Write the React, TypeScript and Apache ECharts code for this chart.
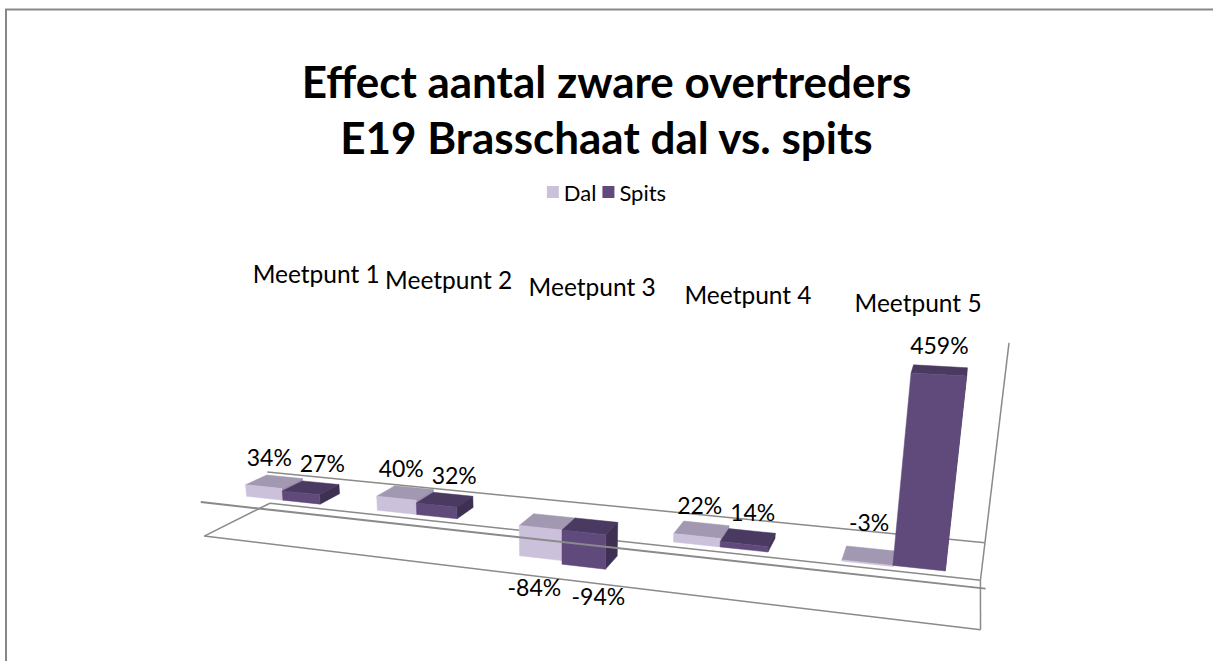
import React, { useEffect, useRef } from 'react';
import * as echarts from 'echarts';

// ---------- data ----------
const categories = ['Meetpunt 1', 'Meetpunt 2', 'Meetpunt 3', 'Meetpunt 4', 'Meetpunt 5'];
const seriesNames = ['Dal', 'Spits'];
const dalValues = [34, 40, -84, 22, -3];
const spitsValues = [27, 32, -94, 14, 459];
const valueMin = -100;
const valueMax = 500;
const titleLines = ['Effect aantal zware overtreders', 'E19 Brasschaat dal vs. spits'];

// ---------- style / layout ----------
const FONT = 'Lato, "Liberation Sans", sans-serif';
const DAL_COLORS = { front: '#CCC1DA', top: '#A298B1', side: '#9A8FAA' };
const SPITS_COLORS = { front: '#604A7B', top: '#4A3A61', side: '#3E3052' };
const LINE_COLOR = '#8A8A8A';
const LABEL_SIZE = 23;

// perspective camera (layout constants)
const DEG = Math.PI / 180;
const ROT_Y = 18.9 * DEG;
const ROT_X = 18.2 * DEG;
const FOCAL = 1160;
const DIST = 1160;
const CX = 562;
const CY = 530;
const BAR_FRAC = 0.286;
const BAR_DEPTH = 42;
const FLOOR_FRONT = -35;
const FLOOR_BACK = 95;

function project(X: number, Y: number, Z: number): number[] {
  const ca = Math.cos(ROT_Y), sa = Math.sin(ROT_Y);
  const cb = Math.cos(ROT_X), sb = Math.sin(ROT_X);
  const xr = X * ca + Z * sa;
  const zr = -X * sa + Z * ca;
  const yr = Y * cb + zr * sb;
  const zc = DIST + zr * cb - Y * sb;
  return [CX + (FOCAL * xr) / zc, CY - (FOCAL * yr) / zc];
}

function poly(pts: number[][], fill: string) {
  return {
    type: 'polygon',
    shape: { points: pts },
    style: { fill, stroke: fill, lineWidth: 0.5 },
  };
}

function seg(a: number[], b: number[], w = 1.5) {
  return {
    type: 'line',
    shape: { x1: a[0], y1: a[1], x2: b[0], y2: b[1] },
    style: { stroke: LINE_COLOR, lineWidth: w },
  };
}

// world-space box of one bar, derived from the axis scales
function barGeom(params: any, api: any, cat: number, v: number, seriesIdx: number) {
  const cs = params.coordSys;
  const midX = cs.x + cs.width / 2;
  const base = api.coord([cat, 0]);
  const tip = api.coord([cat, v]);
  const band = api.size([1, 0])[0];
  const barW = band * BAR_FRAC;
  const center = base[0] - midX;
  const X1 = seriesIdx === 0 ? center - barW : center;
  const X2 = X1 + barW;
  const yv = base[1] - tip[1];
  return { X1, X2, y0: Math.min(0, yv), y1: Math.max(0, yv), yv };
}

function makeBarRenderer(seriesIdx: number, colors: { front: string; top: string; side: string }) {
  return (params: any, api: any) => {
    const cat = api.value(0);
    const v = api.value(1);
    const { X1, X2, y0, y1 } = barGeom(params, api, cat, v, seriesIdx);
    const L = BAR_DEPTH;
    const front = [project(X1, y0, 0), project(X2, y0, 0), project(X2, y1, 0), project(X1, y1, 0)];
    const top = [project(X1, y1, 0), project(X2, y1, 0), project(X2, y1, L), project(X1, y1, L)];
    const side = [project(X2, y0, 0), project(X2, y0, L), project(X2, y1, L), project(X2, y1, 0)];
    return {
      type: 'group',
      children: [poly(top, colors.top), poly(side, colors.side), poly(front, colors.front)],
    };
  };
}

function labelAnchor(params: any, api: any, cat: number, v: number, seriesIdx: number) {
  const g = barGeom(params, api, cat, v, seriesIdx);
  const mid = (g.X1 + g.X2) / 2;
  if (v > -10) {
    const p = project(mid, g.y1, BAR_DEPTH / 2);
    return { x: p[0], y: p[1] - 25 - (v < 0 ? 8 : 0) };
  }
  const p = project(mid, g.y0, 0);
  return { x: p[0], y: p[1] + 29 };
}

function labelText(x: number, y: number, v: number) {
  return {
    type: 'text',
    x,
    y,
    style: {
      text: `${v}%`,
      fontSize: LABEL_SIZE,
      fontFamily: FONT,
      fill: '#000',
      align: 'center',
      verticalAlign: 'middle',
    },
  };
}

function renderLabels(params: any, api: any) {
  const cat = api.value(0);
  const vd = api.value(1);
  const vs = api.value(2);
  const a = labelAnchor(params, api, cat, vd, 0);
  const b = labelAnchor(params, api, cat, vs, 1);
  if (Math.abs(a.y - b.y) < 22) {
    const wa = `${vd}%`.length * 11;
    const wb = `${vs}%`.length * 11;
    const minGap = (wa + wb) / 2 + 20;
    const gap = b.x - a.x;
    if (gap < minGap) {
      const d = minGap - gap;
      a.x -= d * 0.3;
      b.x += d * 0.7;
    }
  }
  return { type: 'group', children: [labelText(a.x, a.y, vd), labelText(b.x, b.y, vs)] };
}

function makeFrameRenderer(part: 'back' | 'front') {
  return (params: any, api: any) => {
    const cs = params.coordSys;
    const midX = cs.x + cs.width / 2;
    const zeroPx = api.coord([0, 0])[1];
    const yMin = zeroPx - api.coord([0, valueMin])[1];
    const yMax = zeroPx - api.coord([0, valueMax])[1];
    const xMin = -cs.width / 2;
    const xMax = cs.width / 2;
    const children: any[] = [];
    if (part === 'back') {
      children.push(seg(project(xMin, yMin, FLOOR_BACK), project(xMax, yMin, FLOOR_BACK)));
      children.push(seg(project(xMin, 0, FLOOR_BACK), project(xMax, 0, FLOOR_BACK)));
      children.push(seg(project(xMax, yMin, FLOOR_BACK), project(xMax, yMax, FLOOR_BACK)));
      categories.forEach((c, i) => {
        const px = api.coord([i, valueMax])[0] - midX;
        const p = project(px, yMax, FLOOR_BACK);
        children.push({
          type: 'text',
          x: p[0],
          y: p[1] - 36,
          style: {
            text: c,
            fontSize: 24.5,
            fontFamily: FONT,
            fill: '#000',
            align: 'center',
            verticalAlign: 'middle',
          },
        });
      });
    } else {
      children.push(seg(project(xMin, 0, FLOOR_FRONT), project(xMax, 0, FLOOR_FRONT), 2));
      children.push(seg(project(xMin, yMin, FLOOR_FRONT), project(xMax, yMin, FLOOR_FRONT)));
      children.push(seg(project(xMin, yMin, FLOOR_FRONT), project(xMin, yMin, FLOOR_BACK)));
      children.push(seg(project(xMax, yMin, FLOOR_FRONT), project(xMax, yMin, FLOOR_BACK)));
    }
    return { type: 'group', children };
  };
}

export default function App() {
  const ref = useRef<HTMLDivElement>(null);
  useEffect(() => {
    if (!ref.current) return;
    const chart = echarts.init(ref.current, undefined, { renderer: 'svg' });
    const option: any = {
      animation: false,
      backgroundColor: '#ffffff',
      title: {
        text: titleLines.join('\n'),
        left: 'center',
        top: 48,
        textStyle: {
          fontSize: 44,
          fontWeight: 'bold',
          fontFamily: FONT,
          color: '#000',
          lineHeight: 56,
        },
      },
      legend: {
        data: seriesNames,
        left: 'center',
        top: 176,
        icon: 'rect',
        itemWidth: 12,
        itemHeight: 12,
        itemGap: 6,
        textStyle: { fontSize: 22, fontFamily: FONT, color: '#000' },
        selectedMode: false,
      },
      grid: { left: 0, top: 0, width: 800, height: 232, show: false },
      xAxis: { type: 'category', data: categories, show: false },
      yAxis: { type: 'value', min: valueMin, max: valueMax, show: false },
      graphic: [
        {
          type: 'rect',
          shape: { x: 6, y: 9.5, width: 1400, height: 900 },
          style: { fill: 'none', stroke: '#888888', lineWidth: 2 },
          z: 100,
        },
      ],
      series: [
        {
          type: 'custom',
          name: 'frameBack',
          coordinateSystem: 'cartesian2d',
          data: [[0, 0]],
          renderItem: makeFrameRenderer('back'),
          silent: true,
          clip: false,
          z: 1,
        },
        {
          type: 'custom',
          name: seriesNames[0],
          coordinateSystem: 'cartesian2d',
          data: dalValues.map((v, i) => [i, v]),
          encode: { x: 0, y: 1 },
          renderItem: makeBarRenderer(0, DAL_COLORS),
          itemStyle: { color: DAL_COLORS.front },
          silent: true,
          clip: false,
          z: 2,
        },
        {
          type: 'custom',
          name: seriesNames[1],
          coordinateSystem: 'cartesian2d',
          data: spitsValues.map((v, i) => [i, v]),
          encode: { x: 0, y: 1 },
          renderItem: makeBarRenderer(1, SPITS_COLORS),
          itemStyle: { color: SPITS_COLORS.front },
          silent: true,
          clip: false,
          z: 2,
        },
        {
          type: 'custom',
          name: 'frameFront',
          coordinateSystem: 'cartesian2d',
          data: [[0, 0]],
          renderItem: makeFrameRenderer('front'),
          silent: true,
          clip: false,
          z: 3,
        },
        {
          type: 'custom',
          name: 'labels',
          coordinateSystem: 'cartesian2d',
          data: categories.map((_, i) => [i, dalValues[i], spitsValues[i]]),
          encode: { x: 0, y: [1, 2] },
          renderItem: renderLabels,
          silent: true,
          clip: false,
          z: 4,
        },
      ],
    };
    chart.setOption(option);
    return () => chart.dispose();
  }, []);
  return (
    <div
      ref={ref}
      style={{ position: 'absolute', left: 0, top: 0, width: 1213, height: 661, background: '#fff' }}
    />
  );
}
